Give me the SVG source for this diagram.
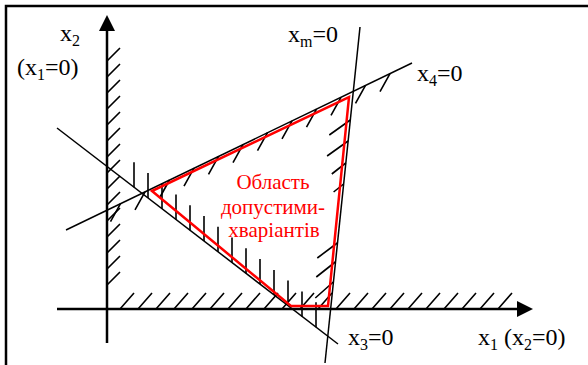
<svg xmlns="http://www.w3.org/2000/svg" width="588" height="365" viewBox="0 0 588 365">
<style>
.frame{fill:none;stroke:#000;stroke-width:2.5}
.axis{fill:none;stroke:#000;stroke-width:2.5}
.ln{fill:none;stroke:#000;stroke-width:1.5}
.hatch{fill:none;stroke:#000;stroke-width:1.6}
.region{fill:none;stroke:#ff0000;stroke-width:2.5;stroke-linejoin:miter}
.lbl{font-family:"Liberation Serif","Times New Roman",serif;font-size:24px;fill:#000}
.sub{font-size:16px}
.red{font-family:"Liberation Serif","Times New Roman",serif;font-size:21px;fill:#ff0000;text-anchor:middle}
</style>
<defs>
<marker id="arr" viewBox="0 0 16 16" refX="2" refY="8" markerWidth="16" markerHeight="16" markerUnits="userSpaceOnUse" orient="auto">
<path d="M0,0 L16,8 L0,16 Z" fill="#000"/>
</marker>
</defs>
<g id="frame"><path class="frame" d="M6,366 V6 H590"/></g>
<g id="axes">
<g id="axis-x2">
<line class="axis" x1="107" y1="343" x2="107" y2="29" marker-end="url(#arr)"/>
<path class="hatch" d="M107,61 l13,-13 M107,77 l13,-13 M107,93 l13,-13 M107,109 l13,-13 M107,125 l13,-13 M107,141 l13,-13 M107,157 l13,-13 M107,173 l13,-13 M107,189 l13,-13 M107,205 l13,-13 M107,221 l13,-13 M107,237 l13,-13 M107,253 l13,-13 M107,269 l13,-13 M107,285 l13,-13"/>
</g>
<g id="axis-x1">
<line class="axis" x1="57" y1="309" x2="519" y2="309" marker-end="url(#arr)"/>
<path class="hatch" d="M120,309 l14,-16 M138,309 l14,-16 M156,309 l14,-16 M174,309 l14,-16 M192,309 l14,-16 M210,309 l14,-16 M228,309 l14,-16 M246,309 l14,-16 M264,309 l14,-16 M282,309 l14,-16 M300,309 l14,-16 M318,309 l14,-16 M336,309 l14,-16 M354,309 l14,-16 M372,309 l14,-16 M390,309 l14,-16 M408,309 l14,-16 M426,309 l14,-16 M444,309 l14,-16 M462,309 l14,-16 M480,309 l14,-16 M498,309 l14,-16"/>
</g>
</g>
<g id="constraints">
<g id="line-x3">
<line class="ln" x1="57" y1="128" x2="338" y2="344"/>
<path class="hatch" d="M134,187.2 v-25 M148,198 v-25 M162,208.7 v-25 M176,219.5 v-25 M190,230.3 v-25 M204,241 v-25 M218,251.8 v-25 M232,262.6 v-25 M246,273.3 v-25 M260,284.1 v-25 M274,294.9 v-25 M288,305.6 v-25 M302,316.4 v-25 M316,327.2 v-25"/>
</g>
<g id="line-x4">
<line class="ln" x1="66" y1="230" x2="412" y2="63"/>
<path class="hatch" d="M390,73.6 l-10,18 M365.5,85.4 l-10,18 M341,97.3 l-10,18 M316.5,109.1 l-10,18 M292,120.9 l-10,18 M267.5,132.7 l-10,18 M243,144.6 l-10,18 M218.5,156.4 l-10,18 M194,168.2 l-10,18 M169.5,180 l-10,18 M145,191.9 l-10,18 M120.5,203.7 l-10,18"/>
</g>
<g id="line-xm">
<line class="ln" x1="360" y1="27" x2="325" y2="363"/>
<path class="hatch" d="M350.3,120 l-21,15 M348.1,141 l-21,15 M345.8,163 l-14,11 M343.6,184 l-10,8 M337.3,243 l-20,15 M335.3,262 l-19,15 M333.3,282 l-18,16"/>
</g>
</g>
<g id="region">
<polygon class="region" points="152,191 349,97 328,306 291,306"/>
<text class="red"><tspan x="273" y="189">Область</tspan><tspan x="273" y="214">допустими-</tspan><tspan x="274" y="237">хваріантів</tspan></text>
</g>
<g id="labels">
<text class="lbl" x="60" y="41">x<tspan class="sub" dy="5">2</tspan></text>
<text class="lbl" x="17" y="75">(x<tspan class="sub" dy="5">1</tspan><tspan dy="-5">=0)</tspan></text>
<text class="lbl" x="288" y="42">x<tspan class="sub" dy="5">m</tspan><tspan dy="-5">=0</tspan></text>
<text class="lbl" x="417" y="81">x<tspan class="sub" dy="5">4</tspan><tspan dy="-5">=0</tspan></text>
<text class="lbl" x="348" y="345">x<tspan class="sub" dy="5">3</tspan><tspan dy="-5">=0</tspan></text>
<text class="lbl" x="478" y="345">x<tspan class="sub" dy="5">1</tspan><tspan dy="-5"> (x</tspan><tspan class="sub" dy="5">2</tspan><tspan dy="-5">=0)</tspan></text>
</g>
</svg>
